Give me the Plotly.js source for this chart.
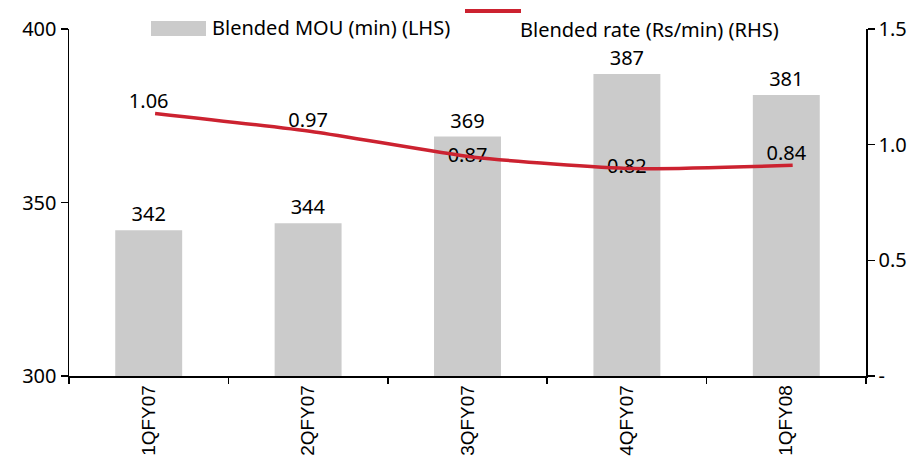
<!DOCTYPE html>
<html>
<head>
<meta charset="utf-8">
<script src="https://cdn.plot.ly/plotly-3.0.1.min.js"></script>
<style>html,body{margin:0;padding:0;background:#fff;}#chart{width:921px;height:466px;}</style>
</head>
<body>
<div id="chart"></div>
<script>
var categories = ["1QFY07", "2QFY07", "3QFY07", "4QFY07", "1QFY08"];
var mouValues = [342, 344, 369, 387, 381];
var rateLine = [1.135, 1.055, 0.946, 0.897, 0.911];
var rateLabels = ["1.06", "0.97", "0.87", "0.82", "0.84"];
var rateLabelPos = ["top center", "top center", "middle center", "middle center", "top center"];
var leftTicks = [300, 350, 400];
var rightTickVals = [0, 0.5, 1.0, 1.5];
var rightTickText = ["-", "0.5", "1.0", "1.5"];
var mouName = "Blended MOU (min) (LHS)";
var rateName = "Blended rate (Rs/min) (RHS)";

var F = "Noto Sans, DejaVu Sans, sans-serif";
var red = "#CC2230";
var grey = "#CBCBCB";

var traces = [
  {
    type: "bar", x: categories, y: mouValues, name: mouName,
    marker: {color: grey}, text: mouValues.map(String), textposition: "outside",
    textfont: {family: F, size: 20, color: "#000"}, cliponaxis: false,
    xaxis: "x", yaxis: "y", hoverinfo: "x+y"
  },
  {
    type: "scatter", mode: "lines", x: categories, y: rateLine, name: rateName,
    line: {color: red, width: 3.5, shape: "spline", smoothing: 0.6},
    xaxis: "x3", yaxis: "y2"
  },
  {
    type: "scatter", mode: "text", x: categories, y: rateLine, text: rateLabels,
    textposition: rateLabelPos, textfont: {family: F, size: 20, color: "#000"},
    xaxis: "x", yaxis: "y2", showlegend: false, cliponaxis: false, hoverinfo: "skip"
  }
];

var layout = {
  width: 921, height: 466,
  margin: {l: 69, r: 55, t: 29, b: 90},
  paper_bgcolor: "#fff", plot_bgcolor: "#fff",
  showlegend: false,
  bargap: 0.58,
  font: {family: F, size: 20, color: "#000"},
  xaxis: {
    type: "category", range: [-0.5, 4.5], tickson: "boundaries",
    ticks: "outside", ticklen: 6, tickcolor: "#000", tickwidth: 1.5,
    showline: true, linecolor: "#000", linewidth: 1.5, showgrid: false,
    tickangle: -90, tickfont: {family: "Liberation Sans, Arial, sans-serif", size: 19, color: "#000"},
    fixedrange: true
  },
  xaxis3: {
    type: "category", overlaying: "x", range: [-0.54, 4.46], visible: false, fixedrange: true
  },
  yaxis: {
    range: [300, 400], tickvals: leftTicks, ticks: "outside", ticklen: 7,
    tickcolor: "#000", tickwidth: 1.5, showline: true, linecolor: "#000", linewidth: 1.5,
    showgrid: false, zeroline: false, tickfont: {family: F, size: 20, color: "#000"}
  },
  yaxis2: {
    overlaying: "y", side: "right", range: [0, 1.5], tickvals: rightTickVals, ticktext: rightTickText,
    ticks: "outside", ticklen: 7, tickcolor: "#000", tickwidth: 1.5, showline: true,
    linecolor: "#000", linewidth: 1.5, showgrid: false, zeroline: false,
    tickfont: {family: F, size: 20, color: "#000"}
  },
  shapes: [
    {type: "rect", xref: "paper", yref: "paper", x0: (151-69)/797, x1: (206-69)/797,
     y0: (376-36)/347, y1: (376-21)/347, fillcolor: grey, line: {width: 0}},
    {type: "line", xref: "paper", yref: "paper", x0: (465-69)/797, x1: (521-69)/797,
     y0: (376-11)/347, y1: (376-11)/347, line: {color: red, width: 4}}
  ],
  annotations: [
    {xref: "paper", yref: "paper", x: (210-69)/797, y: (376-28)/347, xanchor: "left", yanchor: "middle",
     text: mouName, showarrow: false, font: {family: F, size: 20, color: "#000"}},
    {xref: "paper", yref: "paper", x: (518-69)/797, y: (376-29)/347, xanchor: "left", yanchor: "middle",
     text: rateName, showarrow: false, font: {family: F, size: 20, color: "#000"}}
  ]
};

Plotly.newPlot("chart", traces, layout, {displayModeBar: false, staticPlot: true});
</script>
</body>
</html>
